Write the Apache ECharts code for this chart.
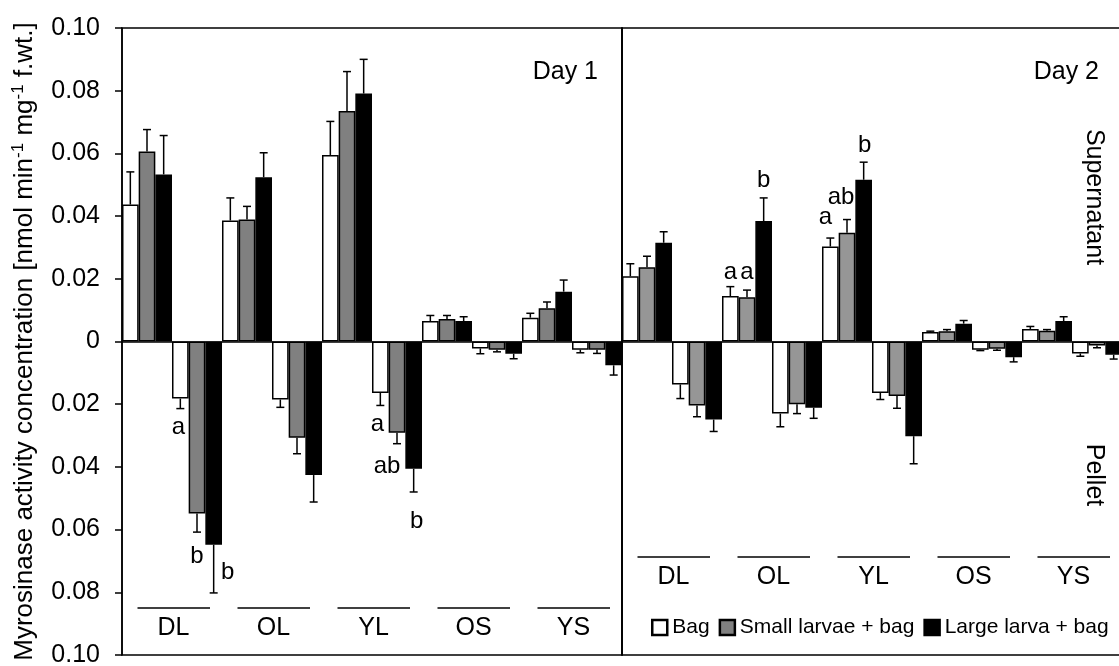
<!DOCTYPE html>
<html><head><meta charset="utf-8">
<script src="https://cdn.jsdelivr.net/npm/echarts@6/dist/echarts.min.js"></script>
<style>html,body{margin:0;padding:0;background:#fff}#c{width:1119px;height:666px}</style>
</head><body><div id="c"></div>
<script>
// ---------- data ----------
const groups = ['DL', 'OL', 'YL', 'OS', 'YS'];
const treatments = ['Bag', 'Small larvae + bag', 'Large larva + bag'];
const yTickLabels = ['0.10', '0.08', '0.06', '0.04', '0.02', '0', '0.02', '0.04', '0.06', '0.08', '0.10'];

// Day 1 – supernatant (plotted upward)
const d1SupBag = [0.0437, 0.0386, 0.0595, 0.0065, 0.0076];
const d1SupSmall = [0.0606, 0.0389, 0.0735, 0.0072, 0.0106];
const d1SupLarge = [0.0533, 0.0524, 0.0791, 0.0065, 0.0159];
const d1SupBagErr = [0.0104, 0.0072, 0.0107, 0.0018, 0.0014];
const d1SupSmallErr = [0.0070, 0.0042, 0.0126, 0.0011, 0.0020];
const d1SupLargeErr = [0.0124, 0.0078, 0.0109, 0.0014, 0.0037];
// Day 1 – pellet (plotted downward)
const d1PelBag = [0.0182, 0.0185, 0.0164, 0.0022, 0.0026];
const d1PelSmall = [0.0549, 0.0307, 0.0291, 0.0026, 0.0026];
const d1PelLarge = [0.0648, 0.0426, 0.0406, 0.0039, 0.0076];
const d1PelBagErr = [0.0032, 0.0025, 0.0040, 0.0017, 0.0010];
const d1PelSmallErr = [0.0059, 0.0051, 0.0035, 0.0007, 0.0012];
const d1PelLargeErr = [0.0154, 0.0086, 0.0074, 0.0016, 0.0031];
// Day 2 – supernatant
const d2SupBag = [0.0208, 0.0145, 0.0303, 0.0030, 0.0040];
const d2SupSmall = [0.0237, 0.0141, 0.0347, 0.0033, 0.0034];
const d2SupLarge = [0.0315, 0.0384, 0.0516, 0.0057, 0.0065];
const d2SupBagErr = [0.0040, 0.0030, 0.0027, 0.0003, 0.0008];
const d2SupSmallErr = [0.0035, 0.0023, 0.0042, 0.0005, 0.0004];
const d2SupLargeErr = [0.0035, 0.0074, 0.0056, 0.0010, 0.0014];
// Day 2 – pellet
const d2PelBag = [0.0137, 0.0230, 0.0164, 0.0026, 0.0038];
const d2PelSmall = [0.0204, 0.0200, 0.0174, 0.0023, 0.0013];
const d2PelLarge = [0.0249, 0.0211, 0.0302, 0.0050, 0.0042];
const d2PelBagErr = [0.0045, 0.0042, 0.0021, 0.0003, 0.0009];
const d2PelSmallErr = [0.0036, 0.0030, 0.0039, 0.0005, 0.0007];
const d2PelLargeErr = [0.0038, 0.0034, 0.0088, 0.0015, 0.0014];

// significance letters
const d1PelLetBag = ['a', '', 'a', '', ''];
const d1PelLetSmall = ['b', '', 'ab', '', ''];
const d1PelLetLarge = ['b', '', 'b', '', ''];
const d2SupLetBag = ['', 'a', 'a', '', ''];
const d2SupLetSmall = ['', 'a', 'ab', '', ''];
const d2SupLetLarge = ['', 'b', 'b', '', ''];

// ---------- layout / style ----------
const FONT = 'Liberation Sans, Arial, Helvetica, sans-serif';
const colorsDay = [['#ffffff', '#808080', '#000000'], ['#ffffff', '#969696', '#000000']];
// pixel nudges for letters (day-fraction-group-treatment)
const letterNudge = {
  '0-1-0-0': [-2, 19], '0-1-0-1': [0, 24], '0-1-0-2': [14, -21],
  '0-1-2-0': [-3, 19], '0-1-2-1': [-10, 23], '0-1-2-2': [3, 29],
  '1-0-1-0': [0, -14], '1-0-1-1': [0, -18], '1-0-1-2': [0, -18],
  '1-0-2-0': [-5, -21], '1-0-2-1': [-6, -22], '1-0-2-2': [1, -17]
};
const groupLabelLayout = [{ line: 47, text: 27 }, { line: 98, text: 78 }];

const days = [
  { sup: [d1SupBag, d1SupSmall, d1SupLarge], supErr: [d1SupBagErr, d1SupSmallErr, d1SupLargeErr],
    pel: [d1PelBag, d1PelSmall, d1PelLarge], pelErr: [d1PelBagErr, d1PelSmallErr, d1PelLargeErr],
    supLet: [null, null, null], pelLet: [d1PelLetBag, d1PelLetSmall, d1PelLetLarge] },
  { sup: [d2SupBag, d2SupSmall, d2SupLarge], supErr: [d2SupBagErr, d2SupSmallErr, d2SupLargeErr],
    pel: [d2PelBag, d2PelSmall, d2PelLarge], pelErr: [d2PelBagErr, d2PelSmallErr, d2PelLargeErr],
    supLet: [d2SupLetBag, d2SupLetSmall, d2SupLetLarge], pelLet: [null, null, null] }
];

const nSlots = groups.length * 6;
const slotNames = Array.from({ length: nSlots }, (_, i) => String(i));

const series = [];
days.forEach((d, k) => {
  const errData = [];
  const letData = [];
  for (let t = 0; t < 3; t++) {
    const data = new Array(nSlots).fill('-');
    groups.forEach((g, gi) => {
      const sSlot = gi * 6 + t, pSlot = gi * 6 + 3 + t;
      data[sSlot] = d.sup[t][gi];
      data[pSlot] = -d.pel[t][gi];
      errData.push([sSlot, d.sup[t][gi], d.supErr[t][gi]]);
      errData.push([pSlot, -d.pel[t][gi], -d.pelErr[t][gi]]);
      if (d.supLet[t] && d.supLet[t][gi]) letData.push({ value: [sSlot, d.sup[t][gi] + d.supErr[t][gi]], txt: d.supLet[t][gi], key: k + '-0-' + gi + '-' + t });
      if (d.pelLet[t] && d.pelLet[t][gi]) letData.push({ value: [pSlot, -d.pel[t][gi] - d.pelErr[t][gi]], txt: d.pelLet[t][gi], key: k + '-1-' + gi + '-' + t });
    });
    series.push({
      name: treatments[t], type: 'bar', xAxisIndex: k, yAxisIndex: k,
      data: data, barWidth: '100%', barGap: '-100%', z: 2,
      itemStyle: { color: colorsDay[k][t], borderColor: '#000', borderWidth: 1.5 },
      emphasis: { disabled: true }
    });
  }
  series.push({
    name: 'err' + k, type: 'custom', xAxisIndex: k, yAxisIndex: k, z: 3,
    data: errData, encode: { x: 0, y: 1 }, silent: true,
    renderItem: function (params, api) {
      const x = api.value(0), v = api.value(1), e = api.value(2);
      const p0 = api.coord([x, v]), p1 = api.coord([x, v + e]);
      const hw = 4;
      return { type: 'group', children: [
        { type: 'line', shape: { x1: p0[0], y1: p0[1], x2: p1[0], y2: p1[1] }, style: { stroke: '#000', lineWidth: 1.5 } },
        { type: 'line', shape: { x1: p1[0] - hw, y1: p1[1], x2: p1[0] + hw, y2: p1[1] }, style: { stroke: '#000', lineWidth: 1.5 } }
      ] };
    }
  });
  series.push({
    name: 'letters' + k, type: 'custom', xAxisIndex: k, yAxisIndex: k, z: 4,
    data: letData, encode: { x: 0, y: 1 }, silent: true,
    renderItem: function (params, api) {
      const item = letData[params.dataIndex];
      const p = api.coord([api.value(0), api.value(1)]);
      const n = letterNudge[item.key] || [0, 0];
      return { type: 'text', x: p[0] + n[0], y: p[1] + n[1],
        style: { text: item.txt, fontSize: 24, fontFamily: FONT, fill: '#000', align: 'center', verticalAlign: 'middle' } };
    }
  });
  series.push({
    name: 'groups' + k, type: 'custom', xAxisIndex: k, yAxisIndex: k, z: 4,
    data: groups.map((g, gi) => [gi * 6, -0.1]), encode: { x: 0, y: 1 }, silent: true,
    renderItem: function (params, api) {
      const p = api.coord([api.value(0), api.value(1)]);
      const bw = api.size([1, 0])[0];
      const left = p[0] - bw / 2, gw = bw * 6;
      const L = groupLabelLayout[k];
      return { type: 'group', children: [
        { type: 'line', shape: { x1: left + 0.155 * gw, y1: p[1] - L.line, x2: left + 0.88 * gw, y2: p[1] - L.line }, style: { stroke: '#000', lineWidth: 1.6 } },
        { type: 'text', x: left + 0.515 * gw, y: p[1] - L.text,
          style: { text: groups[params.dataIndex], fontSize: 25, fontFamily: FONT, fill: '#000', align: 'center', verticalAlign: 'middle' } }
      ] };
    }
  });
});

function yLabel(v) {
  const idx = Math.round((0.1 - v) / 0.02);
  return yTickLabels[idx] !== undefined ? yTickLabels[idx] : '';
}

const chart = echarts.init(document.getElementById('c'), null, { renderer: 'canvas' });
chart.setOption({
  animation: false,
  backgroundColor: '#fff',
  grid: [
    { left: 122, top: 28, width: 500, height: 627, show: true, borderColor: '#000', borderWidth: 1.5, backgroundColor: 'transparent', containLabel: false, outerBoundsMode: 'none' },
    { left: 622, top: 28, width: 500, height: 627, show: true, borderColor: '#000', borderWidth: 1.5, backgroundColor: 'transparent', containLabel: false, outerBoundsMode: 'none' }
  ],
  xAxis: [0, 1].map(k => ({
    gridIndex: k, type: 'category', data: slotNames,
    axisLine: { show: true, onZero: true, lineStyle: { color: '#000', width: 1.5 } },
    axisTick: { show: false }, axisLabel: { show: false }, splitLine: { show: false }
  })),
  yAxis: [
    { gridIndex: 0, type: 'value', min: -0.1, max: 0.1, interval: 0.02,
      axisLine: { show: true, lineStyle: { color: '#000', width: 1.5 } },
      axisTick: { show: true, length: 7, lineStyle: { color: '#000', width: 1.5 } },
      splitLine: { show: false },
      axisLabel: { fontSize: 25, color: '#000', fontFamily: FONT, margin: 22, formatter: yLabel },
      name: '{n|Myrosinase activity concentration [nmol min}{s|-1}{n| mg}{s|-1}{n| f.wt.]}',
      nameLocation: 'middle', nameGap: 82, nameRotate: 90,
      nameTextStyle: { color: '#000', fontFamily: FONT, fontSize: 26,
        rich: { n: { fontSize: 26, fontFamily: FONT, color: '#000', lineHeight: 30 },
                s: { fontSize: 17, fontFamily: FONT, color: '#000', verticalAlign: 'top', lineHeight: 17 } } }
    },
    { gridIndex: 1, type: 'value', min: -0.1, max: 0.1, interval: 0.02,
      axisLine: { show: true, lineStyle: { color: '#000', width: 1.5 } },
      axisTick: { show: false }, axisLabel: { show: false }, splitLine: { show: false } }
  ],
  legend: {
    data: treatments, left: 651, top: 617, orient: 'horizontal', padding: 0,
    itemWidth: 15, itemHeight: 15, itemGap: 9, icon: 'rect', selectedMode: false,
    itemStyle: { borderColor: '#000', borderWidth: 2.5 },
    textStyle: { fontSize: 21, color: '#000', fontFamily: FONT }
  },
  graphic: [
    { type: 'text', x: 598, y: 72, style: { text: 'Day 1', fontSize: 25, fontFamily: FONT, fill: '#000', align: 'right', verticalAlign: 'middle' } },
    { type: 'text', x: 1099, y: 72, style: { text: 'Day 2', fontSize: 25, fontFamily: FONT, fill: '#000', align: 'right', verticalAlign: 'middle' } },
    { type: 'text', x: 1094, y: 197, rotation: -Math.PI / 2, style: { text: 'Supernatant', fontSize: 25, fontFamily: FONT, fill: '#000', align: 'center', verticalAlign: 'middle' } },
    { type: 'text', x: 1094, y: 475, rotation: -Math.PI / 2, style: { text: 'Pellet', fontSize: 25, fontFamily: FONT, fill: '#000', align: 'center', verticalAlign: 'middle' } }
  ],
  series: series
});
</script></body></html>
